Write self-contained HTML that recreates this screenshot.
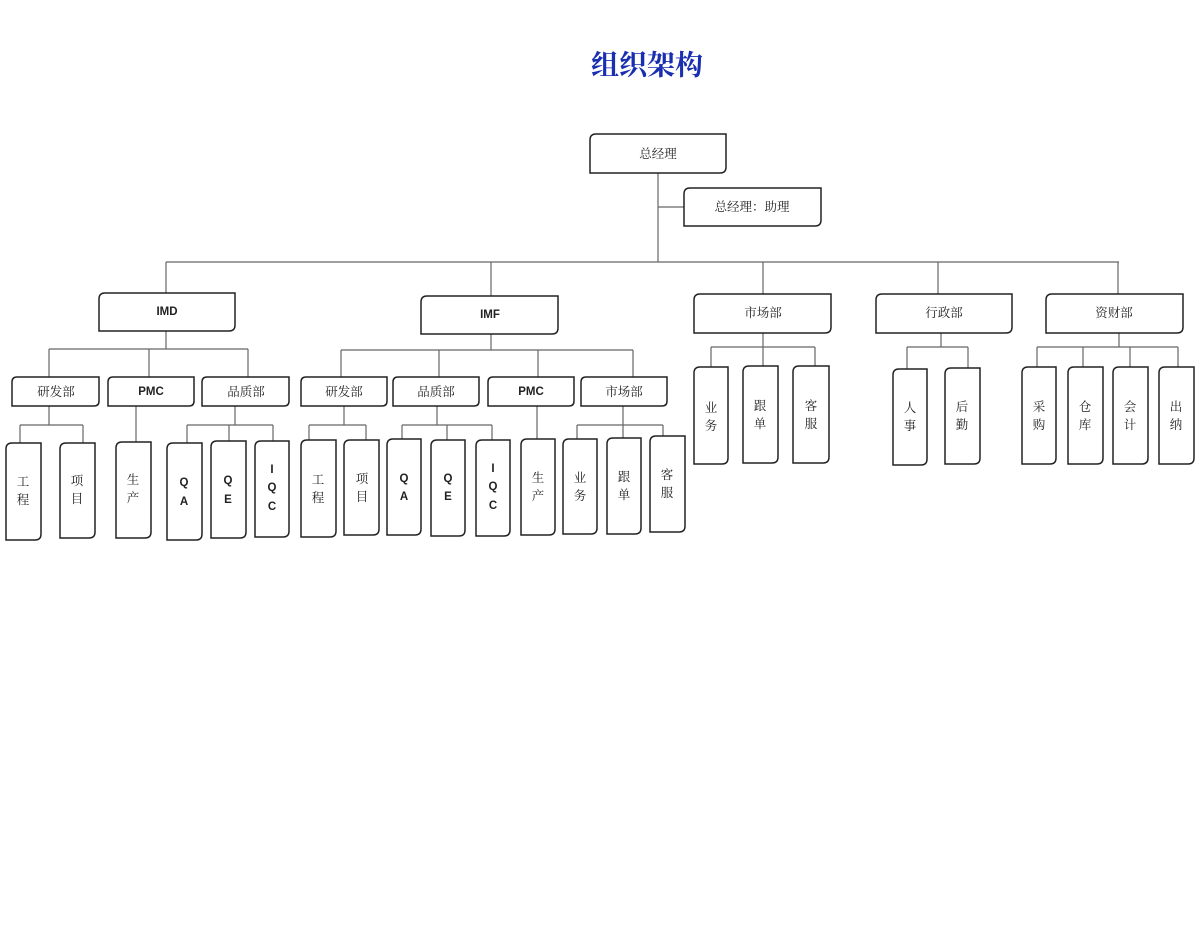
<!DOCTYPE html>
<html><head><meta charset="utf-8"><style>
html,body{margin:0;padding:0;background:#fff;width:1200px;height:945px;overflow:hidden}
svg{display:block}
.t{font-family:"Liberation Serif","Noto Serif CJK SC",serif;font-size:12.5px;fill:#222;text-anchor:middle;dominant-baseline:central}
.l{font-family:"Liberation Sans","Noto Sans CJK SC",sans-serif;font-size:11.5px;font-weight:bold;fill:#222;text-anchor:middle;dominant-baseline:central}
</style></head><body>
<svg width="1200" height="945" viewBox="0 0 1200 945">
<text x="647" y="66" style="font-family:'Liberation Serif','Noto Serif CJK SC',serif;font-size:28px;font-weight:bold;fill:#1a2fb0;text-anchor:middle;dominant-baseline:central">组织架构</text>
<path fill="none" stroke="#666" stroke-width="1.2" d="
M658,173V262M658,207H684M166,262H1119
M166,262V293M491,262V296M763,262V294M938,262V294M1118,262V294
M166,331V349M49,349H248M49,349V377M149,349V377M248,349V377
M49,406V425M20,425H83M20,425V443M83,425V443
M136,406V442
M235,406V425M187,425H273M187,425V443M229,425V441M273,425V441
M491,334V350M341,350H633M341,350V377M439,350V377M538,350V377M633,350V377
M344,406V425M309,425H366M309,425V440M366,425V440
M437,406V425M402,425H492M402,425V439M447,425V440M492,425V440
M537,406V439
M623,406V425M577,425H663M577,425V439M623,425V438M663,425V436
M763,333V347M711,347H815M711,347V367M763,347V366M815,347V366
M941,333V347M907,347H968M907,347V369M968,347V368
M1119,333V347M1037,347H1178M1037,347V367M1083,347V367M1130,347V367M1178,347V367"/>
<g fill="#fff" stroke="#222" stroke-width="1.5">
<path d="M596,134H726V167Q726,173 720,173H590V140Q590,134 596,134Z"/>
<path d="M690,188H821V220Q821,226 815,226H684V194Q684,188 690,188Z"/>
<path d="M105,293H235V325Q235,331 229,331H99V299Q99,293 105,293Z"/>
<path d="M427,296H558V328Q558,334 552,334H421V302Q421,296 427,296Z"/>
<path d="M700,294H831V327Q831,333 825,333H694V300Q694,294 700,294Z"/>
<path d="M882,294H1012V327Q1012,333 1006,333H876V300Q876,294 882,294Z"/>
<path d="M1052,294H1183V327Q1183,333 1177,333H1046V300Q1046,294 1052,294Z"/>
<path d="M17,377H99V401Q99,406 94,406H12V382Q12,377 17,377Z"/>
<path d="M113,377H194V401Q194,406 189,406H108V382Q108,377 113,377Z"/>
<path d="M207,377H289V401Q289,406 284,406H202V382Q202,377 207,377Z"/>
<path d="M306,377H387V401Q387,406 382,406H301V382Q301,377 306,377Z"/>
<path d="M398,377H479V401Q479,406 474,406H393V382Q393,377 398,377Z"/>
<path d="M493,377H574V401Q574,406 569,406H488V382Q488,377 493,377Z"/>
<path d="M586,377H667V401Q667,406 662,406H581V382Q581,377 586,377Z"/>
<path d="M12,443H41V534Q41,540 35,540H6V449Q6,443 12,443Z"/>
<path d="M66,443H95V532Q95,538 89,538H60V449Q60,443 66,443Z"/>
<path d="M122,442H151V532Q151,538 145,538H116V448Q116,442 122,442Z"/>
<path d="M173,443H202V534Q202,540 196,540H167V449Q167,443 173,443Z"/>
<path d="M217,441H246V532Q246,538 240,538H211V447Q211,441 217,441Z"/>
<path d="M261,441H289V531Q289,537 283,537H255V447Q255,441 261,441Z"/>
<path d="M307,440H336V531Q336,537 330,537H301V446Q301,440 307,440Z"/>
<path d="M350,440H379V529Q379,535 373,535H344V446Q344,440 350,440Z"/>
<path d="M393,439H421V529Q421,535 415,535H387V445Q387,439 393,439Z"/>
<path d="M437,440H465V530Q465,536 459,536H431V446Q431,440 437,440Z"/>
<path d="M482,440H510V530Q510,536 504,536H476V446Q476,440 482,440Z"/>
<path d="M527,439H555V529Q555,535 549,535H521V445Q521,439 527,439Z"/>
<path d="M569,439H597V528Q597,534 591,534H563V445Q563,439 569,439Z"/>
<path d="M613,438H641V528Q641,534 635,534H607V444Q607,438 613,438Z"/>
<path d="M656,436H685V526Q685,532 679,532H650V442Q650,436 656,436Z"/>
<path d="M700,367H728V458Q728,464 722,464H694V373Q694,367 700,367Z"/>
<path d="M749,366H778V457Q778,463 772,463H743V372Q743,366 749,366Z"/>
<path d="M799,366H829V457Q829,463 823,463H793V372Q793,366 799,366Z"/>
<path d="M899,369H927V459Q927,465 921,465H893V375Q893,369 899,369Z"/>
<path d="M951,368H980V458Q980,464 974,464H945V374Q945,368 951,368Z"/>
<path d="M1028,367H1056V458Q1056,464 1050,464H1022V373Q1022,367 1028,367Z"/>
<path d="M1074,367H1103V458Q1103,464 1097,464H1068V373Q1068,367 1074,367Z"/>
<path d="M1119,367H1148V458Q1148,464 1142,464H1113V373Q1113,367 1119,367Z"/>
<path d="M1165,367H1194V458Q1194,464 1188,464H1159V373Q1159,367 1165,367Z"/>
</g>
<text class="t" x="658" y="154">总经理</text>
<text class="t" x="752" y="207">总经理：助理</text>
<text class="l" x="167" y="312">IMD</text>
<text class="l" x="490" y="315">IMF</text>
<text class="t" x="763" y="313">市场部</text>
<text class="t" x="944" y="313">行政部</text>
<text class="t" x="1114" y="313">资财部</text>
<text class="t" x="56" y="392">研发部</text>
<text class="l" x="151" y="392">PMC</text>
<text class="t" x="246" y="392">品质部</text>
<text class="t" x="344" y="392">研发部</text>
<text class="t" x="436" y="392">品质部</text>
<text class="l" x="531" y="392">PMC</text>
<text class="t" x="624" y="392">市场部</text>
<text class="t" x="23" y="482">工</text><text class="t" x="23" y="500">程</text>
<text class="t" x="77" y="481">项</text><text class="t" x="77" y="499">目</text>
<text class="t" x="133" y="480">生</text><text class="t" x="133" y="498">产</text>
<text class="l" x="184" y="483">Q</text><text class="l" x="184" y="502">A</text>
<text class="l" x="228" y="481">Q</text><text class="l" x="228" y="500">E</text>
<text class="l" x="272" y="470">I</text><text class="l" x="272" y="488">Q</text><text class="l" x="272" y="507">C</text>
<text class="t" x="318" y="480">工</text><text class="t" x="318" y="498">程</text>
<text class="t" x="362" y="479">项</text><text class="t" x="362" y="497">目</text>
<text class="l" x="404" y="479">Q</text><text class="l" x="404" y="497">A</text>
<text class="l" x="448" y="479">Q</text><text class="l" x="448" y="497">E</text>
<text class="l" x="493" y="469">I</text><text class="l" x="493" y="487">Q</text><text class="l" x="493" y="506">C</text>
<text class="t" x="538" y="478">生</text><text class="t" x="538" y="496">产</text>
<text class="t" x="580" y="478">业</text><text class="t" x="580" y="496">务</text>
<text class="t" x="624" y="477">跟</text><text class="t" x="624" y="495">单</text>
<text class="t" x="667" y="475">客</text><text class="t" x="667" y="493">服</text>
<text class="t" x="711" y="408">业</text><text class="t" x="711" y="426">务</text>
<text class="t" x="760" y="406">跟</text><text class="t" x="760" y="424">单</text>
<text class="t" x="811" y="406">客</text><text class="t" x="811" y="424">服</text>
<text class="t" x="910" y="408">人</text><text class="t" x="910" y="426">事</text>
<text class="t" x="962" y="407">后</text><text class="t" x="962" y="425">勤</text>
<text class="t" x="1039" y="407">采</text><text class="t" x="1039" y="425">购</text>
<text class="t" x="1085" y="407">仓</text><text class="t" x="1085" y="425">库</text>
<text class="t" x="1130" y="407">会</text><text class="t" x="1130" y="425">计</text>
<text class="t" x="1176" y="407">出</text><text class="t" x="1176" y="425">纳</text>
</svg>
</body></html>
